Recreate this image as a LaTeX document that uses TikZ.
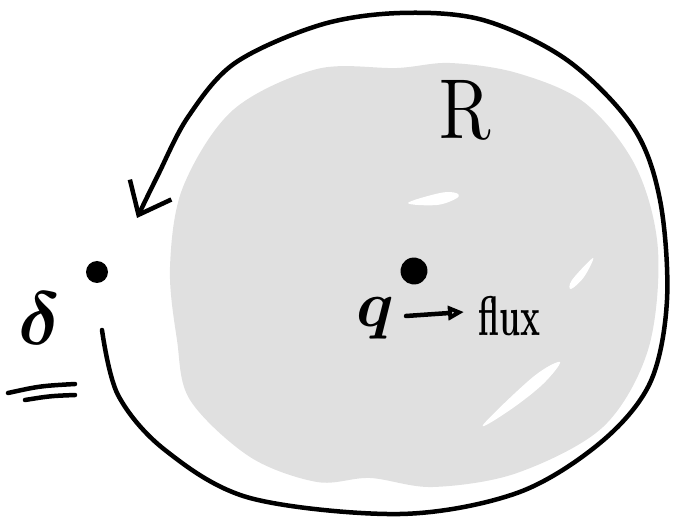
\documentclass[tikz,border=0pt]{standalone}
\usepackage{amsmath,amssymb,bm}
\usepackage{xcolor}
\usepackage{tikz}
\usetikzlibrary{arrows.meta,positioning,calc}
\definecolor{blobgray}{RGB}{224,224,224}
\newcommand{\glint}[1]{\fill[white] plot[smooth cycle,tension=0.6] coordinates {#1};}

\begin{document}
\begin{tikzpicture}[x=1pt,y=-1pt,
  pen/.style={line width=4.5pt,line cap=round,line join=round},
  blotdot/.style={circle,fill=black,inner sep=0pt},
  hand/.style={inner sep=0pt,text=black}]
\useasboundingbox (0,0) rectangle (678,529);
% region R
\fill[blobgray] plot[smooth cycle,tension=0.55] coordinates {(397,68) (317,69) (233,110) (183,187) (170,267)
  (177,340) (190,400) (250,457) (317,482) (370,478) (433,487) (517,473) (603,427) (648,350) (658,250)
  (636,167) (585,103) (517,73) (450,63)};
\glint{(408,203) (440,193) (456,193) (457,198) (437,205)}
\glint{(572,280) (593,258) (584,277) (571,289)}
\glint{(483,425) (533,377) (560,362) (543,384) (510,410)}
% circling arrow
\coordinate (start) at (102,330);
\coordinate (tip) at (137,218);
\draw[pen,-{Straight Barb[length=28pt,width=46pt,line width=4.5pt]}] plot[smooth,tension=0.55] coordinates {(start) (118,395)
  (165,450) (250,498) (400,514) (517,493) (600,443) (650,383) (667,300) (660,200) (633,127) (567,60)
  (483,20) (400,13) (320,25) (235,63) (188,117) (158,175) (tip)};
% points and labels
\node[blotdot,minimum width=22pt,minimum height=20pt] (src) at (97,272) {};
\node[blotdot,minimum width=27pt,minimum height=23pt,rotate=15] (mid) at (414,271) {};
\node[hand] (R) at (465,110) {\scalebox{7}[8.5]{R}};
\node[hand] (q) at (375,318) {\scalebox{6.5}{$\bm{q}$}};
\node[hand,anchor=west] (flux) at (478,316) {\scalebox{3.3}[5.6]{\bfseries flux}};
\draw[line width=4.5pt,line cap=round,-{Triangle[open,length=16pt,width=14pt,line width=4pt]}] ([xshift=12pt,yshift=2pt]q.east) -- ([xshift=-14pt,yshift=4pt]flux.west);
\node[hand] (dl) at (40,318) {\scalebox{7.5}{$\bm{\delta}$}};
\draw[pen] (8,393) .. controls (40,386) .. (75,384);
\draw[pen] (25,400) .. controls (50,396) .. (75,395);
\end{tikzpicture}
\end{document}
